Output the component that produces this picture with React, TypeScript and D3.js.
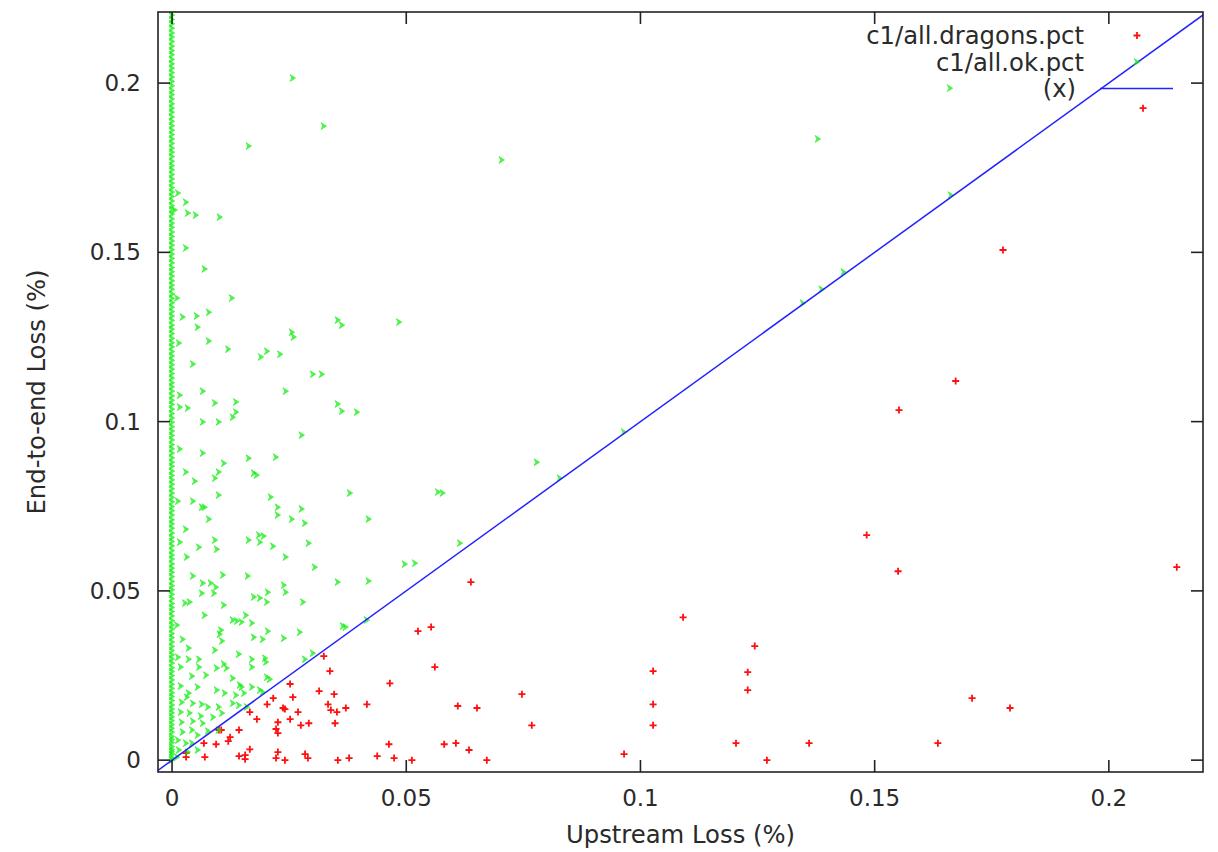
import React, { useEffect, useRef } from "react";
import * as d3 from "d3";

// ---- data (loss in %) ----
const xTicks = [0, 0.05, 0.1, 0.15, 0.2];
const yTicks = [0, 0.05, 0.1, 0.15, 0.2];
const tickLabels = ["0", "0.05", "0.1", "0.15", "0.2"];
const seriesNames = ["c1/all.dragons.pct", "c1/all.ok.pct", "(x)"];

// [upstream, end-to-end]
const dragons: [number, number][] = [
  [0.003, 0.0009], [0.007, 0.0009], [0.0094, 0.0047], [0.01, 0.0089], [0.012, 0.0056],
  [0.0124, 0.0068], [0.0143, 0.0012], [0.0143, 0.0089], [0.0156, 0.0003], [0.0156, 0.0015],
  [0.0166, 0.0032], [0.0166, 0.0142], [0.0181, 0.0121], [0.0203, 0.0165], [0.0216, 0.0183],
  [0.0222, 0.0092], [0.0226, 0.0112], [0.0226, 0.008], [0.0226, 0.0024], [0.0222, 0.0006],
  [0.0237, 0.0154], [0.0241, 0.0151], [0.0241, 0.0], [0.0252, 0.0121], [0.0258, 0.0186],
  [0.0269, 0.0142], [0.0275, 0.0103], [0.0284, 0.0018], [0.029, 0.0006], [0.0292, 0.0109],
  [0.0314, 0.0204], [0.0324, 0.0307], [0.0337, 0.0263], [0.0333, 0.0165], [0.0339, 0.0148],
  [0.0346, 0.0195], [0.0352, 0.0142], [0.0348, 0.0109], [0.0371, 0.0154], [0.0354, 0.0],
  [0.0378, 0.0006], [0.0416, 0.0165], [0.0438, 0.0012], [0.0463, 0.0047], [0.0465, 0.0227],
  [0.0474, 0.0006], [0.0512, 0.0], [0.0525, 0.0381], [0.0553, 0.0393], [0.0561, 0.0275],
  [0.0581, 0.0047], [0.0606, 0.005], [0.061, 0.016], [0.0634, 0.003], [0.0638, 0.0526],
  [0.0651, 0.0154], [0.0672, 0.0], [0.0747, 0.0195], [0.0768, 0.0103], [0.0965, 0.0018],
  [0.1027, 0.0263], [0.1027, 0.0165], [0.1027, 0.0103], [0.1091, 0.0422], [0.1204, 0.005],
  [0.1229, 0.0207], [0.1229, 0.026], [0.1244, 0.0337], [0.127, 0.0], [0.136, 0.005],
  [0.1483, 0.0665], [0.155, 0.0558], [0.1552, 0.1034], [0.1635, 0.005], [0.1673, 0.112],
  [0.1708, 0.0183], [0.1774, 0.1507], [0.1789, 0.0154], [0.2073, 0.1926], [0.2145, 0.057],
  [0.003, 0.0021], [0.0068, 0.005], [0.0105, 0.0089], [0.0252, 0.0225],
];

// ok points off the x = 0 column
const okScatter: [number, number][] = [
  [0.0258, 0.2015], [0.0324, 0.1873], [0.0164, 0.1814], [0.0013, 0.1675], [0.003, 0.1648],
  [0.0006, 0.1625], [0.0034, 0.1616], [0.0051, 0.161], [0.0102, 0.1604], [0.003, 0.1513],
  [0.007, 0.1451], [0.0011, 0.1365], [0.0128, 0.1365], [0.0023, 0.1309], [0.0053, 0.1312],
  [0.0079, 0.1323], [0.0055, 0.1279], [0.0354, 0.13], [0.0363, 0.1285], [0.0485, 0.1294],
  [0.0256, 0.1264], [0.026, 0.125], [0.0015, 0.1232], [0.0079, 0.1238], [0.012, 0.1214],
  [0.019, 0.1191], [0.0203, 0.1208], [0.0231, 0.1199], [0.0045, 0.117], [0.0301, 0.114],
  [0.032, 0.114], [0.0017, 0.1078], [0.0066, 0.109], [0.0243, 0.109], [0.0017, 0.1043],
  [0.0034, 0.104], [0.0092, 0.1055], [0.0137, 0.1058], [0.0137, 0.1028], [0.013, 0.1013],
  [0.0354, 0.1052], [0.0363, 0.1031], [0.0395, 0.1028], [0.0066, 0.0999], [0.01, 0.0999],
  [0.0277, 0.096], [0.0017, 0.0919], [0.0066, 0.0907], [0.0164, 0.0892], [0.0222, 0.0895],
  [0.0111, 0.0877], [0.003, 0.0851], [0.0049, 0.0824], [0.0092, 0.0833], [0.01, 0.0851],
  [0.0175, 0.0848], [0.0181, 0.0842], [0.01, 0.0783], [0.0013, 0.0765], [0.0045, 0.0765],
  [0.0064, 0.0747], [0.007, 0.0747], [0.0211, 0.0777], [0.0226, 0.0747], [0.0226, 0.0724],
  [0.0277, 0.0742], [0.038, 0.0789], [0.0079, 0.0712], [0.0256, 0.0712], [0.0284, 0.07],
  [0.042, 0.0712], [0.003, 0.0682], [0.0017, 0.0644], [0.0058, 0.0629], [0.0092, 0.065],
  [0.0096, 0.0623], [0.0164, 0.065], [0.0186, 0.0665], [0.0196, 0.0662], [0.0188, 0.0644],
  [0.0216, 0.0632], [0.0292, 0.0641], [0.0032, 0.06], [0.0243, 0.06], [0.0305, 0.057],
  [0.0045, 0.0544], [0.0109, 0.0547], [0.0162, 0.0544], [0.0354, 0.0526], [0.042, 0.0529],
  [0.0066, 0.0523], [0.0083, 0.0523], [0.0094, 0.0511], [0.009, 0.0493], [0.0064, 0.0493],
  [0.0239, 0.0517], [0.0243, 0.0496], [0.0205, 0.0496], [0.0175, 0.0482], [0.0188, 0.0479],
  [0.0203, 0.0467], [0.028, 0.0467], [0.0028, 0.0464], [0.0038, 0.0467], [0.0111, 0.0458],
  [0.007, 0.0428], [0.0158, 0.0428], [0.013, 0.0414], [0.0139, 0.0411], [0.0149, 0.0408],
  [0.0171, 0.0405], [0.0205, 0.0381], [0.0105, 0.0384], [0.0102, 0.0372], [0.0273, 0.0378],
  [0.0365, 0.0396], [0.0371, 0.0393], [0.0416, 0.0414], [0.0011, 0.0399], [0.0023, 0.0357],
  [0.0107, 0.0352], [0.0175, 0.0363], [0.0194, 0.0357], [0.0239, 0.036], [0.0036, 0.0331],
  [0.0092, 0.0325], [0.0143, 0.0313], [0.0013, 0.0304], [0.0036, 0.0298], [0.0058, 0.0298],
  [0.0171, 0.0298], [0.0199, 0.0301], [0.0111, 0.0284], [0.0019, 0.0275], [0.0058, 0.0275],
  [0.0096, 0.0272], [0.0117, 0.0272], [0.0171, 0.0275], [0.0201, 0.029], [0.0284, 0.0298],
  [0.0301, 0.0316], [0.0203, 0.0245], [0.0209, 0.0239], [0.0043, 0.0248], [0.0073, 0.0251],
  [0.013, 0.0242], [0.0019, 0.0219], [0.0055, 0.0216], [0.0036, 0.0198], [0.0096, 0.0207],
  [0.0113, 0.0198], [0.0145, 0.0222], [0.0149, 0.0216], [0.0171, 0.0216], [0.0188, 0.0207],
  [0.0194, 0.0201], [0.0137, 0.0192], [0.0154, 0.0198], [0.0021, 0.0171], [0.0032, 0.0186],
  [0.0045, 0.0168], [0.0064, 0.0165], [0.0077, 0.0157], [0.01, 0.0157], [0.013, 0.0168],
  [0.0143, 0.0162], [0.016, 0.0157], [0.0019, 0.0142], [0.0038, 0.0139], [0.0062, 0.013],
  [0.0088, 0.0127], [0.0107, 0.0139], [0.0021, 0.0112], [0.0045, 0.0115], [0.0066, 0.0109],
  [0.0023, 0.0083], [0.0043, 0.0089], [0.0055, 0.0074], [0.0077, 0.0086], [0.0013, 0.0059],
  [0.003, 0.005], [0.0043, 0.005], [0.0055, 0.003], [0.0015, 0.003], [0.0011, 0.0009],
  [0.0034, 0.0024], [0.01, 0.0089],
  [0.0704, 0.1773], [0.1379, 0.1835], [0.1661, 0.1985], [0.1663, 0.1669], [0.1434, 0.1442],
  [0.1387, 0.1391], [0.1347, 0.135], [0.0965, 0.0969], [0.0779, 0.088], [0.0828, 0.0833],
  [0.0568, 0.0792], [0.0578, 0.0789], [0.0615, 0.0641], [0.0497, 0.0579], [0.0519, 0.0582],
];

// ok points sitting on upstream = 0 (end-to-end values)
const okZeroColumnY: number[] = [
  0.0, 0.0008, 0.0017, 0.0025, 0.0031, 0.004, 0.0052, 0.0061, 0.007, 0.0083, 0.0094, 0.0105,
  0.0117, 0.0128, 0.014, 0.0151, 0.0163, 0.0176, 0.0188, 0.0199, 0.0212, 0.0224, 0.0237, 0.025,
  0.0262, 0.0273, 0.0287, 0.0299, 0.0311, 0.0324, 0.0336, 0.0349, 0.0362, 0.0374, 0.0387, 0.0399,
  0.0412, 0.0426, 0.0439, 0.0451, 0.0463, 0.0477, 0.049, 0.0503, 0.0515, 0.0528, 0.0542, 0.0555,
  0.0567, 0.058, 0.0594, 0.0606, 0.0619, 0.0633, 0.0646, 0.0658, 0.0671, 0.0685, 0.0698, 0.071,
  0.0724, 0.0737, 0.0749, 0.0763, 0.0776, 0.0789, 0.0802, 0.0815, 0.0828, 0.0841, 0.0854, 0.0868,
  0.088, 0.0893, 0.0907, 0.092, 0.0932, 0.0946, 0.0959, 0.0972, 0.0985, 0.0998, 0.1011, 0.1024,
  0.1037, 0.1051, 0.1063, 0.1076, 0.109, 0.1103, 0.1115, 0.1129, 0.1142, 0.1155, 0.1168, 0.1181,
  0.1194, 0.1207, 0.1221, 0.1233, 0.1246, 0.126, 0.1273, 0.1285, 0.1299, 0.1312, 0.1325, 0.1338,
  0.1351, 0.1364, 0.1377, 0.1391, 0.1403, 0.1416, 0.143, 0.1443, 0.1455, 0.1469, 0.1482, 0.1495,
  0.1508, 0.1521, 0.1534, 0.1547, 0.156, 0.1574, 0.1586, 0.1599, 0.1613, 0.1626, 0.1638, 0.1652,
  0.1665, 0.1678, 0.1691, 0.1704, 0.1717, 0.173, 0.1744, 0.1756, 0.1769, 0.1783, 0.1796, 0.1808,
  0.1822, 0.1835, 0.1848, 0.1861, 0.1874, 0.1887, 0.19, 0.1914, 0.1926, 0.1939, 0.1953, 0.1966,
  0.1978, 0.1992, 0.2005, 0.2018, 0.2031, 0.2044, 0.2057, 0.207, 0.2084, 0.2096, 0.2109, 0.2123,
  0.2136, 0.2148, 0.2162, 0.2175, 0.2188, 0.2201, 0.2214,
];

const W = 1218;
const H = 852;
const font = "'DejaVu Sans', sans-serif";
const textColor = "#2a2a2a";
const red = "#ff1010";
const green = "#11ee11";
const blue = "#2222ff";

const plusPath = "M-3.5,0H3.5M0,-3.5V3.5";
const arrowPath = "M-2.8,-3.4L2.6,0L-2.8,3.4L-1.1,0Z";

// draws a marker glyph at each point
function markers(
  g: d3.Selection<SVGGElement, unknown, null, undefined>,
  pts: [number, number][],
  x: d3.ScaleLinear<number, number>,
  y: d3.ScaleLinear<number, number>,
  kind: "plus" | "arrow"
) {
  const sel = g
    .selectAll("path")
    .data(pts)
    .join("path")
    .attr("transform", (d) => `translate(${x(d[0])},${y(d[1])})`);
  if (kind === "plus") {
    sel.attr("d", plusPath).attr("fill", "none").attr("stroke", red).attr("stroke-width", 1.8);
  } else {
    sel
      .attr("d", arrowPath)
      .attr("fill", green)
      .attr("stroke", green)
      .attr("stroke-width", 0.9)
      .attr("stroke-linejoin", "round")
      .attr("opacity", 0.75);
  }
}

function drawChart(el: SVGSVGElement) {
  const svg = d3.select(el);
  svg.selectAll("*").remove();

  const x = d3.scaleLinear().domain([-0.003, 0.2201]).range([158, 1203]);
  const y = d3.scaleLinear().domain([-0.0035, 0.221]).range([772, 12]);
  const [x0, x1] = x.range();
  const [y0, y1] = y.range();
  const tick = 12;

  svg.append("rect").attr("width", W).attr("height", H).attr("fill", "#fff");

  svg
    .append("clipPath")
    .attr("id", "plot-clip")
    .append("rect")
    .attr("x", x0)
    .attr("y", y1)
    .attr("width", x1 - x0)
    .attr("height", y0 - y1);

  const plot = svg.append("g").attr("clip-path", "url(#plot-clip)");

  // dragons
  markers(plot.append("g"), dragons, x, y, "plus");

  // ok
  const okPoints: [number, number][] = okZeroColumnY
    .map((v) => [0, v] as [number, number])
    .concat(okScatter);
  markers(plot.append("g"), okPoints, x, y, "arrow");

  // y = x
  const line = d3
    .line<number>()
    .x((d) => x(d))
    .y((d) => y(d));
  plot
    .append("path")
    .attr("d", line([-0.01, 0.25]))
    .attr("stroke", blue)
    .attr("stroke-width", 1.5)
    .attr("fill", "none");

  // frame
  svg
    .append("rect")
    .attr("x", x0)
    .attr("y", y1)
    .attr("width", x1 - x0)
    .attr("height", y0 - y1)
    .attr("fill", "none")
    .attr("stroke", "#222")
    .attr("stroke-width", 1.6);

  const ticks = svg.append("g").attr("stroke", "#222").attr("stroke-width", 1.6);
  xTicks.forEach((v) => {
    ticks.append("line").attr("x1", x(v)).attr("x2", x(v)).attr("y1", y0).attr("y2", y0 - tick);
    ticks.append("line").attr("x1", x(v)).attr("x2", x(v)).attr("y1", y1).attr("y2", y1 + tick);
  });
  yTicks.forEach((v) => {
    ticks.append("line").attr("x1", x0).attr("x2", x0 + tick).attr("y1", y(v)).attr("y2", y(v));
    ticks.append("line").attr("x1", x1).attr("x2", x1 - tick).attr("y1", y(v)).attr("y2", y(v));
  });

  const labels = svg
    .append("g")
    .attr("font-family", font)
    .attr("font-size", 23)
    .attr("fill", textColor);

  labels
    .selectAll("text.xt")
    .data(xTicks)
    .join("text")
    .attr("class", "xt")
    .attr("x", (d) => x(d))
    .attr("y", y0 + 34)
    .attr("text-anchor", "middle")
    .text((d, i) => tickLabels[i]);

  labels
    .selectAll("text.yt")
    .data(yTicks)
    .join("text")
    .attr("class", "yt")
    .attr("x", x0 - 17)
    .attr("y", (d) => y(d) + 8)
    .attr("text-anchor", "end")
    .text((d, i) => tickLabels[i]);

  const titles = labels.append("g").attr("font-size", 24.3);

  titles
    .append("text")
    .attr("x", (x0 + x1) / 2)
    .attr("y", 843)
    .attr("text-anchor", "middle")
    .text("Upstream Loss (%)");

  titles
    .append("text")
    .attr("transform", `translate(45,${(y0 + y1) / 2}) rotate(-90)`)
    .attr("text-anchor", "middle")
    .text("End-to-end Loss (%)");

  // key
  const keyY = (i: number) => 35.5 + i * 26.5;
  const sampleX = 1137;
  seriesNames.forEach((name, i) => {
    titles
      .append("text")
      .attr("x", i === 2 ? 1076 : 1084)
      .attr("y", keyY(i) + 8.5)
      .attr("text-anchor", "end")
      .text(name);
  });
  const sx = d3.scaleLinear().range([sampleX, sampleX]);
  markers(svg.append("g"), [[0, 0]], sx, d3.scaleLinear().range([keyY(0), keyY(0)]), "plus");
  markers(svg.append("g"), [[0, 0]], sx, d3.scaleLinear().range([keyY(1), keyY(1)]), "arrow");
  svg
    .append("line")
    .attr("x1", 1100)
    .attr("x2", 1173)
    .attr("y1", keyY(2))
    .attr("y2", keyY(2))
    .attr("stroke", blue)
    .attr("stroke-width", 1.7);
}

export default function App() {
  const ref = useRef<SVGSVGElement>(null);

  useEffect(() => {
    if (ref.current) drawChart(ref.current);
  }, []);

  return (
    <svg
      ref={ref}
      width={W}
      height={H}
      style={{ position: "absolute", left: 0, top: 0, display: "block" }}
    />
  );
}
